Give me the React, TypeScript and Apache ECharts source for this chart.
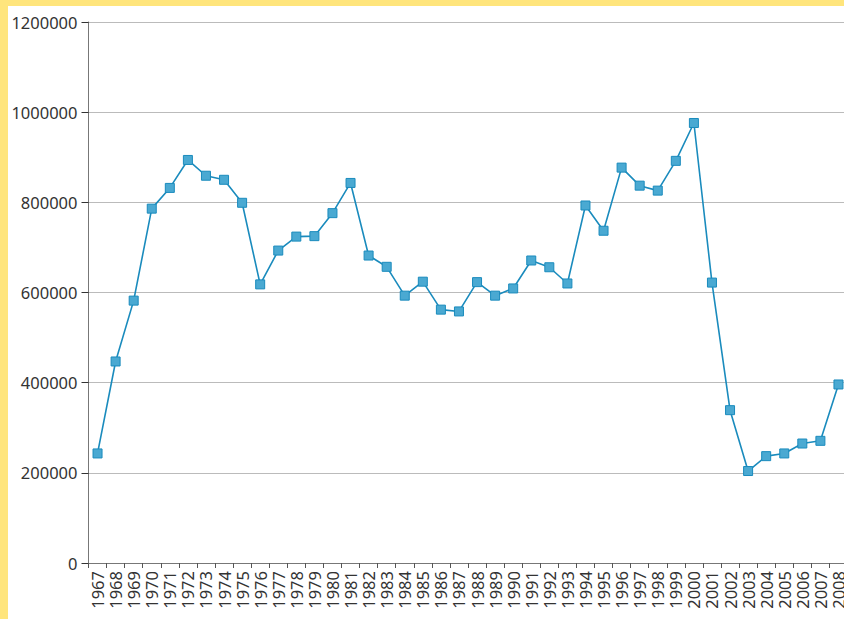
import React, { useEffect, useRef } from "react";
import * as echarts from "echarts";

const years: string[] = [
  "1967","1968","1969","1970","1971","1972","1973","1974","1975","1976",
  "1977","1978","1979","1980","1981","1982","1983","1984","1985","1986",
  "1987","1988","1989","1990","1991","1992","1993","1994","1995","1996",
  "1997","1998","1999","2000","2001","2002","2003","2004","2005","2006",
  "2007","2008",
];

const values: number[] = [
  243000, 447000, 582000, 786000, 832000, 894000, 859000, 850000, 799000, 618000,
  693000, 724000, 725000, 776000, 843000, 682000, 657000, 593000, 624000, 562000,
  558000, 623000, 593000, 609000, 671000, 656000, 620000, 793000, 737000, 877000,
  837000, 826000, 892000, 976000, 622000, 339000, 204000, 237000, 243000, 265000,
  271000, 396000,
];

const yTicks = { min: 0, max: 1200000, interval: 200000 };

export default function App() {
  const ref = useRef<HTMLDivElement>(null);

  useEffect(() => {
    if (!ref.current) return;
    const chart = echarts.init(ref.current, null, { renderer: "svg" });
    const font = "'Noto Sans', sans-serif";
    chart.setOption({
      animation: false,
      backgroundColor: "#ffffff",
      graphic: [
        { type: "rect", z: 100, shape: { x: 0, y: 0, width: 8, height: 619 }, style: { fill: "#FFE57C" } },
        { type: "rect", z: 100, shape: { x: 0, y: 0, width: 900, height: 6 }, style: { fill: "#FFE57C" } },
      ],
      grid: { left: 88.5, top: 22, width: 759, height: 541, containLabel: false },
      xAxis: {
        type: "category",
        data: years,
        boundaryGap: true,
        axisLine: { lineStyle: { color: "#777", width: 1 } },
        axisTick: { show: true, length: 5, lineStyle: { color: "#555" } },
        axisLabel: {
          rotate: 90,
          interval: 0,
          margin: 8,
          color: "#333",
          fontSize: 16.5,
          fontFamily: font,
        },
        splitLine: { show: false },
      },
      yAxis: {
        type: "value",
        min: yTicks.min,
        max: yTicks.max,
        interval: yTicks.interval,
        axisLine: { show: true, lineStyle: { color: "#777", width: 1 } },
        axisTick: { show: true, length: 7, lineStyle: { color: "#333" } },
        axisLabel: {
          margin: 11,
          color: "#333",
          fontSize: 16.5,
          fontFamily: font,
          formatter: (v: number) => String(v),
        },
        splitLine: { show: true, lineStyle: { color: "#bbbbbb", width: 1 } },
      },
      series: [
        {
          type: "line",
          data: values,
          symbol: "rect",
          symbolSize: 9,
          lineStyle: { color: "#1a8bbd", width: 1.6 },
          itemStyle: { color: "#4aa9d2", borderColor: "#1a8bbd", borderWidth: 1 },
        },
      ],
    });
    return () => chart.dispose();
  }, []);

  return (
    <div style={{ position: "fixed", left: 0, top: 0, width: 844, height: 619, overflow: "hidden" }}>
      <div ref={ref} style={{ width: 900, height: 619 }} />
    </div>
  );
}
